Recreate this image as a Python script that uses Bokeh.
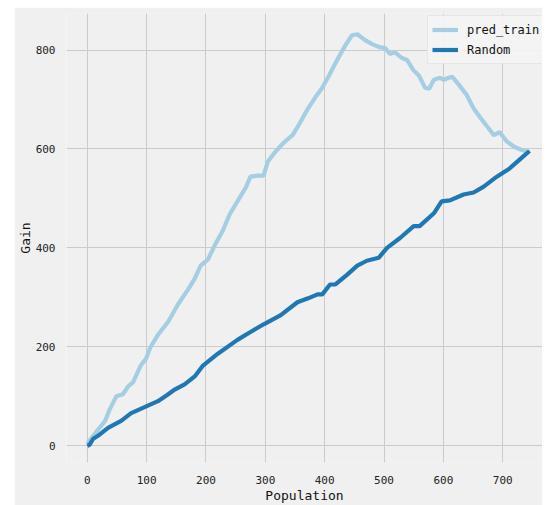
from bokeh.plotting import figure
from bokeh.models import Range1d, FixedTicker, Legend, LegendItem
from bokeh.embed import file_html
from bokeh.resources import INLINE

# pred_train gain curve
pred_x = [0, 10, 18, 30, 38, 49, 60, 69, 77, 90, 99, 106, 119, 136, 153, 170, 181, 191, 203,
          216, 228, 240, 253, 267, 275, 287, 297, 304, 314, 324, 334, 346, 357, 371, 384, 396,
          408, 421, 435, 446, 455, 468, 480, 492, 502, 510, 518, 530, 539, 549, 559, 569, 576,
          584, 594, 601, 609, 615, 626, 639, 651, 663, 676, 685, 695, 706, 720, 732, 745]
pred_y = [4, 20, 32, 50, 74, 100, 104, 120, 128, 162, 176, 198, 224, 250, 286, 316, 338, 364, 376,
          408, 434, 468, 494, 522, 544, 546, 546, 574, 590, 604, 616, 628, 650, 680, 704, 724,
          750, 780, 810, 830, 832, 820, 812, 806, 804, 792, 796, 784, 780, 760, 748, 724, 722,
          740, 744, 740, 744, 746, 730, 710, 682, 662, 642, 628, 634, 616, 604, 598, 594]

# Random baseline
rand_x = [0, 4, 10, 18, 35, 57, 74, 89, 104, 119, 134, 148, 164, 181, 195, 220, 253, 275, 298,
          326, 354, 372, 388, 396, 409, 418, 438, 455, 471, 491, 505, 527, 550, 560, 584, 597,
          611, 634, 651, 668, 690, 711, 728, 745]
rand_y = [0, 2, 14, 20, 36, 50, 66, 74, 82, 90, 102, 114, 124, 140, 162, 186, 214, 230, 246,
          264, 290, 298, 306, 306, 326, 326, 346, 364, 374, 380, 400, 420, 444, 444, 470, 494,
          496, 508, 512, 524, 544, 560, 578, 596]

x_ticks = [0, 100, 200, 300, 400, 500, 600, 700]
y_ticks = [0, 200, 400, 600, 800]

BG = "#f0f0f0"
FONT = "DejaVu Sans Mono"

p = figure(width=528, height=498, output_backend="svg", toolbar_location=None,
           x_range=Range1d(-35, 767), y_range=Range1d(-34, 874),
           min_border_left=50, min_border_right=0, min_border_top=6, min_border_bottom=38)
p.margin = (7, 0, 0, 14)
p.background_fill_color = BG
p.border_fill_color = BG
p.outline_line_color = None

r1 = p.line(pred_x, pred_y, line_color="#a6cee3", line_width=4.2)
r2 = p.line(rand_x, rand_y, line_color="#1f78b4", line_width=4.2)

for ax in (p.xaxis[0], p.yaxis[0]):
    ax.axis_line_color = None
    ax.major_tick_line_color = None
    ax.minor_tick_line_color = None
    ax.major_label_text_font = FONT
    ax.major_label_text_font_size = "11px"
    ax.major_label_text_color = "#222222"
    ax.axis_label_text_font = FONT
    ax.axis_label_text_font_size = "13px"
    ax.axis_label_text_font_style = "normal"
    ax.axis_label_text_color = "#111111"

p.xaxis[0].ticker = FixedTicker(ticks=x_ticks)
p.yaxis[0].ticker = FixedTicker(ticks=y_ticks)
p.xaxis[0].axis_label = "Population"
p.yaxis[0].axis_label = "Gain"
p.xaxis[0].major_label_standoff = 7
p.xaxis[0].axis_label_standoff = 1
p.yaxis[0].major_label_standoff = 5
p.yaxis[0].axis_label_standoff = 0

p.grid.grid_line_color = "#cbcbcb"
p.grid.grid_line_width = 1

legend = Legend(items=[LegendItem(label="pred_train", renderers=[r1]),
                       LegendItem(label="Random", renderers=[r2])],
                location=(361, 398))
legend.margin = 0
legend.padding = 4
legend.spacing = 1
legend.glyph_width = 26
legend.glyph_height = 19
legend.label_height = 19
legend.label_standoff = 9
legend.label_text_font = FONT
legend.label_text_font_size = "12px"
legend.label_text_color = "#111111"
legend.background_fill_color = "#f4f4f4"
legend.background_fill_alpha = 0.9
legend.border_line_color = "#d8d8d8"
legend.border_line_width = 1
p.add_layout(legend, "center")

open("out.html", "w").write(file_html(p, INLINE))
